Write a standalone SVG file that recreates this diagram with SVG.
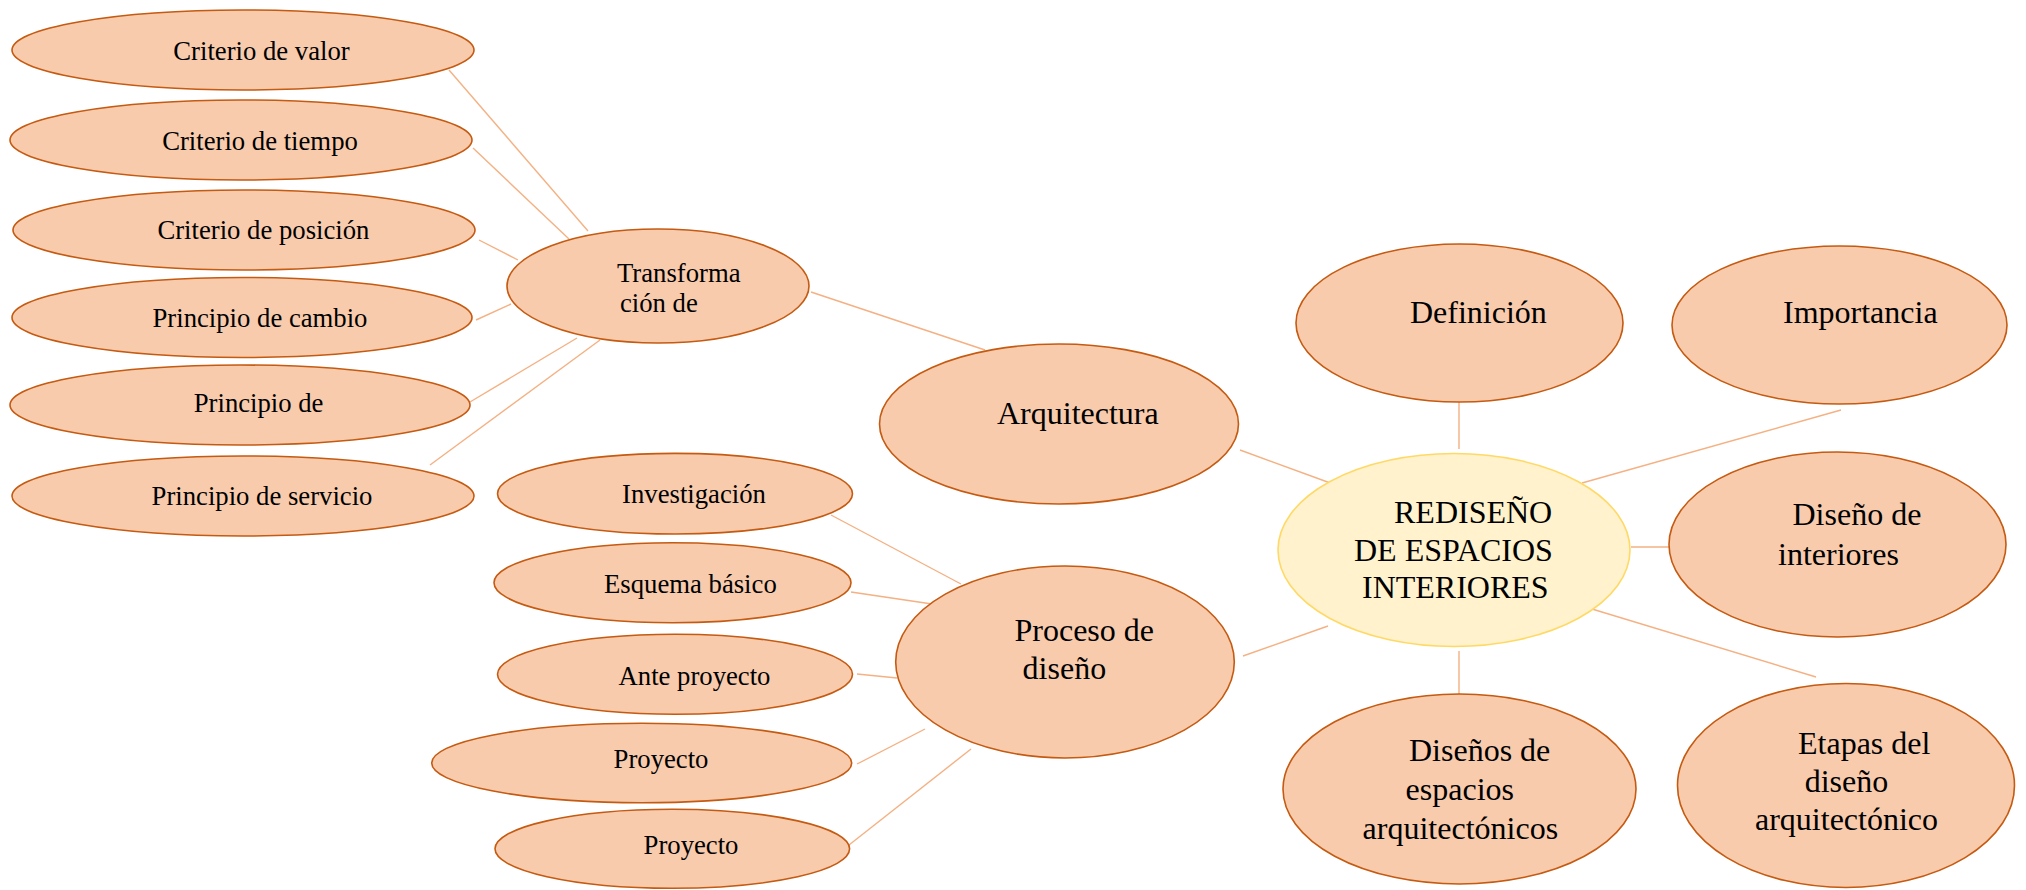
<svg xmlns="http://www.w3.org/2000/svg" width="2026" height="890" viewBox="0 0 2026 890">
<style>
.n{fill:#F8CBAD;stroke:#C55A11;stroke-width:1.6}
.c{fill:#FFF2CC;stroke:#FFD966;stroke-width:1.6}
.l{stroke:#F4B183;stroke-width:1.4;fill:none}
text{font-family:"Liberation Serif","Times New Roman",serif;fill:#000}
.s{font-size:26.7px}
.b{font-size:32px}
</style>
<rect width="2026" height="890" fill="#fff"/>
<g id="connectors">
<line class="l" x1="449" y1="70" x2="588" y2="231"/>
<line class="l" x1="473" y1="148" x2="569" y2="239"/>
<line class="l" x1="479" y1="240" x2="518" y2="260"/>
<line class="l" x1="476" y1="320" x2="511" y2="304"/>
<line class="l" x1="470" y1="402" x2="577" y2="338"/>
<line class="l" x1="430" y1="465" x2="600" y2="340"/>
<line class="l" x1="811" y1="292" x2="985" y2="350"/>
<line class="l" x1="1240" y1="450" x2="1333" y2="484"/>
<line class="l" x1="831" y1="515" x2="961" y2="584"/>
<line class="l" x1="851" y1="592" x2="932" y2="604"/>
<line class="l" x1="857" y1="674" x2="897" y2="678"/>
<line class="l" x1="857" y1="764" x2="925" y2="729"/>
<line class="l" x1="849" y1="845" x2="971" y2="749"/>
<line class="l" x1="1243" y1="656" x2="1328" y2="626"/>
<line class="l" x1="1459" y1="388" x2="1459" y2="449"/>
<line class="l" x1="1841" y1="410" x2="1582" y2="483"/>
<line class="l" x1="1631" y1="547" x2="1670" y2="547"/>
<line class="l" x1="1592" y1="609" x2="1816" y2="677"/>
<line class="l" x1="1459" y1="651" x2="1459" y2="704"/>
</g>
<g id="n-criterio-valor"><ellipse class="n" cx="243" cy="50" rx="231" ry="40"/><text class="s" x="261.5" y="60" text-anchor="middle">Criterio de valor</text></g>
<g id="n-criterio-tiempo"><ellipse class="n" cx="241" cy="140" rx="231" ry="40"/><text class="s" x="260" y="150" text-anchor="middle">Criterio de tiempo</text></g>
<g id="n-criterio-posicion"><ellipse class="n" cx="244" cy="230" rx="231" ry="40"/><text class="s" x="263.4" y="238.6" text-anchor="middle">Criterio de posición</text></g>
<g id="n-principio-cambio"><ellipse class="n" cx="242" cy="317.5" rx="230" ry="40"/><text class="s" x="260" y="326.8" text-anchor="middle">Principio de cambio</text></g>
<g id="n-principio-de"><ellipse class="n" cx="240" cy="405" rx="230" ry="40"/><text class="s" x="258.6" y="411.8" text-anchor="middle">Principio de</text></g>
<g id="n-principio-servicio"><ellipse class="n" cx="243" cy="496" rx="231" ry="40"/><text class="s" x="262" y="504.6" text-anchor="middle">Principio de servicio</text></g>
<g id="n-transformacion"><ellipse class="n" cx="658" cy="286" rx="151" ry="57"/><text class="s" x="617" y="282">Transforma</text><text class="s" x="620" y="312">ción de</text></g>
<g id="n-arquitectura"><ellipse class="n" cx="1059" cy="424" rx="179.5" ry="80"/><text class="b" x="997" y="424">Arquitectura</text></g>
<g id="n-investigacion"><ellipse class="n" cx="675" cy="493.7" rx="177.5" ry="40.3"/><text class="s" x="694" y="502.7" text-anchor="middle">Investigación</text></g>
<g id="n-esquema"><ellipse class="n" cx="672.5" cy="582.7" rx="178.5" ry="40"/><text class="s" x="690.4" y="592.7" text-anchor="middle">Esquema básico</text></g>
<g id="n-anteproyecto"><ellipse class="n" cx="675" cy="674.3" rx="177.5" ry="40"/><text class="s" x="694.5" y="685" text-anchor="middle">Ante proyecto</text></g>
<g id="n-proyecto1"><ellipse class="n" cx="641.7" cy="763" rx="210" ry="39.7"/><text class="s" x="661" y="768.3" text-anchor="middle">Proyecto</text></g>
<g id="n-proyecto2"><ellipse class="n" cx="672.3" cy="848.8" rx="177.3" ry="39.5"/><text class="s" x="691" y="854.3" text-anchor="middle">Proyecto</text></g>
<g id="n-proceso"><ellipse class="n" cx="1065" cy="662" rx="169.3" ry="96"/><text class="b" x="1014.5" y="640.7">Proceso de</text><text class="b" x="1022.6" y="679.3">diseño</text></g>
<g id="n-rediseno"><ellipse class="c" cx="1454" cy="550" rx="176" ry="96.5"/><text class="b" x="1394" y="523">REDISEÑO</text><text class="b" x="1354" y="560.5">DE ESPACIOS</text><text class="b" x="1362" y="598">INTERIORES</text></g>
<g id="n-definicion"><ellipse class="n" cx="1459.5" cy="323" rx="163.5" ry="79"/><text class="b" x="1410" y="323">Definición</text></g>
<g id="n-importancia"><ellipse class="n" cx="1839.5" cy="325" rx="167.5" ry="79"/><text class="b" x="1783" y="323">Importancia</text></g>
<g id="n-disenointeriores"><ellipse class="n" cx="1837.5" cy="544.5" rx="168.5" ry="92.5"/><text class="b" x="1792.5" y="524.6">Diseño de</text><text class="b" x="1778" y="564.6">interiores</text></g>
<g id="n-disenosespacios"><ellipse class="n" cx="1459.5" cy="789" rx="176.5" ry="95"/><text class="b" x="1409" y="761">Diseños de</text><text class="b" x="1405.6" y="800">espacios</text><text class="b" x="1362.6" y="839">arquitectónicos</text></g>
<g id="n-etapas"><ellipse class="n" cx="1846" cy="785.5" rx="168.5" ry="102"/><text class="b" x="1798" y="754">Etapas del</text><text class="b" x="1804.7" y="792">diseño</text><text class="b" x="1755" y="830">arquitectónico</text></g>
</svg>
